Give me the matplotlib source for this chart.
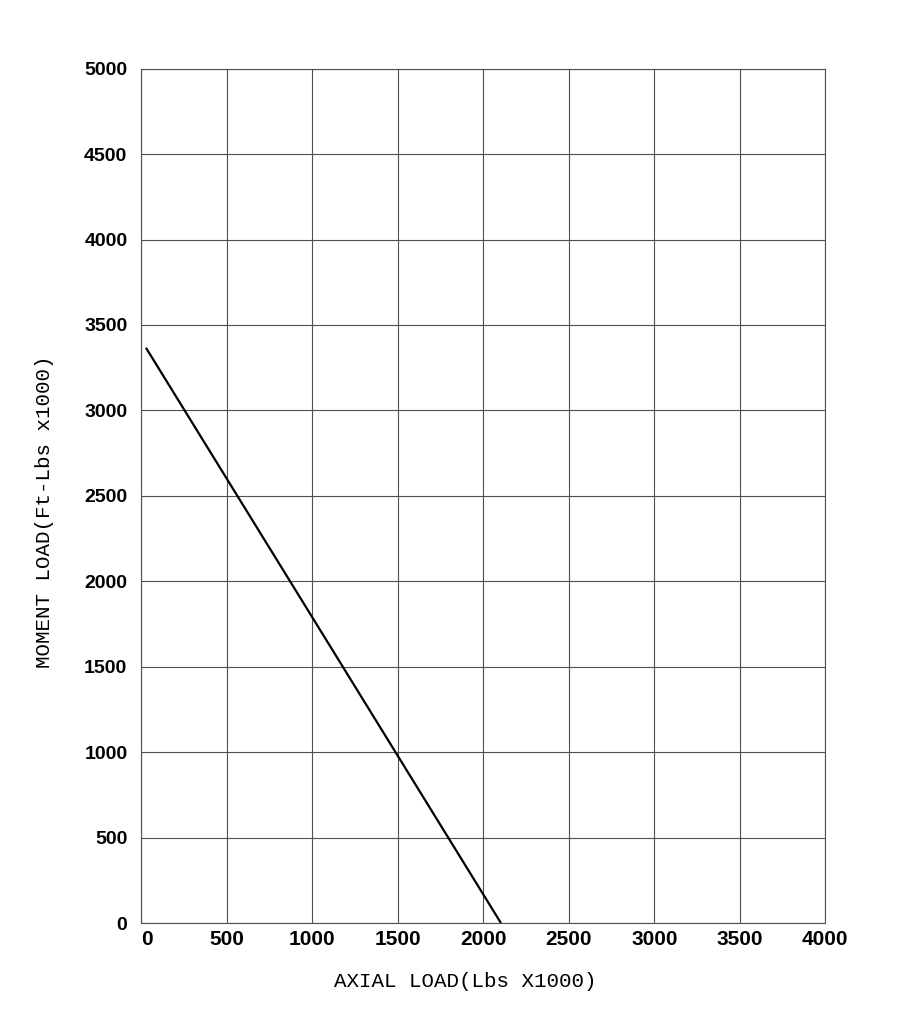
import matplotlib.pyplot as plt

# curve endpoints
axial_load = [27, 2103]
moment_load = [3367, 0]

x_ticks = [0, 500, 1000, 1500, 2000, 2500, 3000, 3500, 4000]
y_ticks = [0, 500, 1000, 1500, 2000, 2500, 3000, 3500, 4000, 4500, 5000]

fig = plt.figure(figsize=(9.03, 10.13), dpi=100)
ax = fig.add_axes([0.1565, 0.0888, 0.7575, 0.8434])

ax.plot(axial_load, moment_load, color='black', linewidth=1.6, solid_capstyle='butt')

ax.set_xlim(0, 4000)
ax.set_ylim(0, 5000)
ax.set_xticks(x_ticks)
ax.set_yticks(y_ticks)
ax.grid(True, color='#505050', linewidth=0.8)
ax.set_axisbelow(True)
for s in ax.spines.values():
    s.set_color('#505050')
    s.set_linewidth(0.8)

ax.tick_params(length=0)
ax.tick_params(axis='y', pad=10)
ax.tick_params(axis='x', pad=5)
for lab in ax.get_xticklabels():
    lab.set_fontfamily('Liberation Sans')
    lab.set_fontweight('bold')
    lab.set_fontsize(15)
ax.get_xticklabels()[0].set_horizontalalignment('left')
for lab in ax.get_yticklabels():
    lab.set_fontfamily('Liberation Sans')
    lab.set_fontweight('bold')
    lab.set_fontsize(14)

fig.text(0.515, 1 - 981 / 1013, 'AXIAL LOAD(Lbs X1000)', ha='center', va='center',
         fontsize=15, family='Liberation Mono')
fig.text(45 / 903, 1 - 512 / 1013, 'MOMENT LOAD(Ft-Lbs x1000)', ha='center', va='center',
         rotation=90, fontsize=15, family='Liberation Mono')

plt.savefig('out.png', dpi=100)
